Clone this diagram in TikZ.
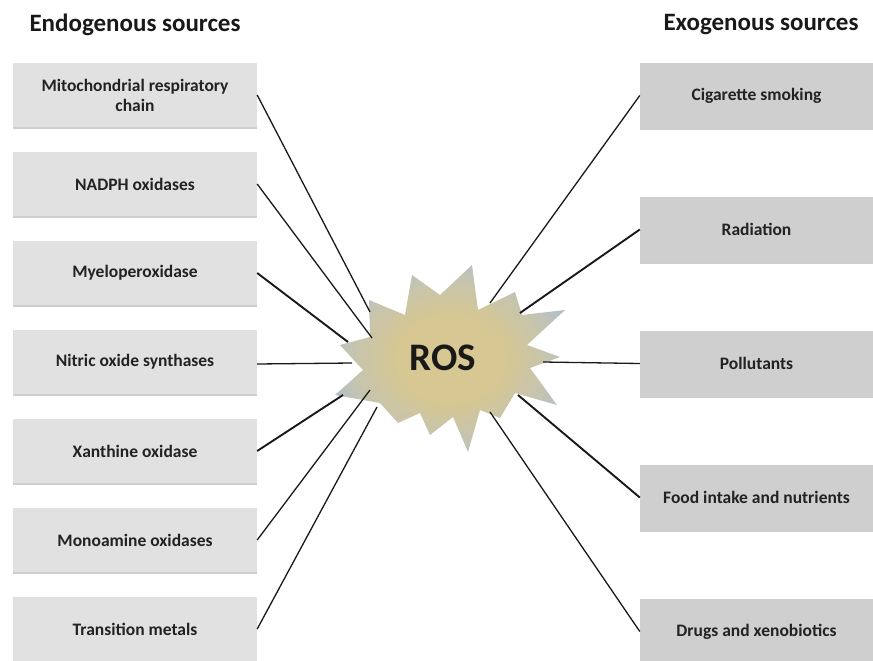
\documentclass[tikz,border=0pt]{standalone}
\usepackage{fontspec}
\setmainfont{Carlito}
\usetikzlibrary{shadows}

\definecolor{endobox}{HTML}{E1E1E1}
\definecolor{exobox}{HTML}{CFCFCF}
\definecolor{rostan}{HTML}{D6C793}
\definecolor{rosmid}{HTML}{C4C4B2}
\definecolor{rosblue}{HTML}{A0BADC}
\definecolor{labeltext}{HTML}{222222}

% burst fill: warm tan core fading to pale blue at the points
\pgfdeclareradialshading{rosburst}{\pgfpoint{0bp}{0bp}}{%
  color(0bp)=(rostan); color(12bp)=(rostan); color(22bp)=(rosmid);
  color(31bp)=(rosblue); color(50bp)=(rosblue)}

\tikzset{
  heading/.style={text=black!90, font=\fontsize{25}{30}\selectfont\bfseries, inner sep=0pt},
  srcbox/.style={rectangle, inner sep=0pt, text=labeltext, align=center,
    font=\fontsize{17.5}{20}\selectfont\bfseries,
    drop shadow={shadow xshift=0pt, shadow yshift=-1.6pt, opacity=0.35, fill=black!55}},
  endo/.style={srcbox, fill=endobox, minimum width=244pt, minimum height=64pt},
  exo/.style={srcbox, fill=exobox, minimum width=233pt, minimum height=65pt},
  link/.style={draw=black!90, line width=1.3pt},
  heavylink/.style={link, line width=1.9pt}
}

\begin{document}
\begin{tikzpicture}[x=1pt, y=-1pt]
  \useasboundingbox (0,0) rectangle (873,661);

  % column headings
  \node[heading] (endoHead) at (135,25) {Endogenous sources};
  \node[heading] (exoHead) at (761,25) {Exogenous sources};

  % endogenous sources
  \node[endo] (mito)  at (135,95)  {Mitochondrial respiratory\\chain};
  \node[endo] (nadph) at (135,184) {NADPH oxidases};
  \node[endo] (mpo)   at (135,273) {Myeloperoxidase};
  \node[endo] (nos)   at (135,362) {Nitric oxide synthases};
  \node[endo] (xo)    at (135,451) {Xanthine oxidase};
  \node[endo] (mao)   at (135,540) {Monoamine oxidases};
  \node[endo] (metal) at (135,629) {Transition metals};

  % exogenous sources
  \node[exo] (smoke) at (756.5,95.5)  {Cigarette smoking};
  \node[exo] (rad)   at (756.5,229.5) {Radiation};
  \node[exo] (poll)  at (756.5,363.5) {Pollutants};
  \node[exo] (food)  at (756.5,497.5) {Food intake and nutrients};
  \node[exo] (drug)  at (756.5,631.5) {Drugs and xenobiotics};

  % ROS burst
  \shade[shading=rosburst]
    (369,300) -- (405,315) -- (412,275) -- (440,295) -- (472,265) -- (478,310)
    -- (515,292) -- (522,315) -- (565,310) -- (527,345) -- (560,357) -- (530,368)
    -- (557,405) -- (515,393) -- (500,418) -- (480,410) -- (468,452) -- (453,417)
    -- (430,435) -- (420,413) -- (398,423) -- (380,403) -- (335,395) -- (363,370)
    -- (340,345) -- (370,337) -- cycle;
  \node[text=black!90, font=\fontsize{39}{40}\selectfont\bfseries, inner sep=0pt] (ros) at (443,358) {ROS};

  % points where the connectors meet the burst
  \coordinate (inMito)  at (370,312);
  \coordinate (inNadph) at (372,338);
  \coordinate (inMpo)   at (348,342);
  \coordinate (inNos)   at (352,363);
  \coordinate (inXo)    at (343,395);
  \coordinate (inMao)   at (370,390);
  \coordinate (inMetal) at (377,407);
  \coordinate (inSmoke) at (490,303);
  \coordinate (inRad)   at (520,313);
  \coordinate (inPoll)  at (543,362);
  \coordinate (inFood)  at (518,395);
  \coordinate (inDrug)  at (490,412);

  % connectors
  \draw[link]      (mito.east)  -- (inMito);
  \draw[link]      (nadph.east) -- (inNadph);
  \draw[heavylink] (mpo.east)   -- (inMpo);
  \draw[link]      ([yshift=-2pt]nos.east) -- (inNos);
  \draw[heavylink] (xo.east)    -- (inXo);
  \draw[link]      (mao.east)   -- (inMao);
  \draw[link]      (metal.east) -- (inMetal);
  \draw[link]      (smoke.west) -- (inSmoke);
  \draw[heavylink] (rad.west)   -- (inRad);
  \draw[link]      (poll.west)  -- (inPoll);
  \draw[heavylink] (food.west)  -- (inFood);
  \draw[link]      (drug.west)  -- (inDrug);
\end{tikzpicture}
\end{document}
